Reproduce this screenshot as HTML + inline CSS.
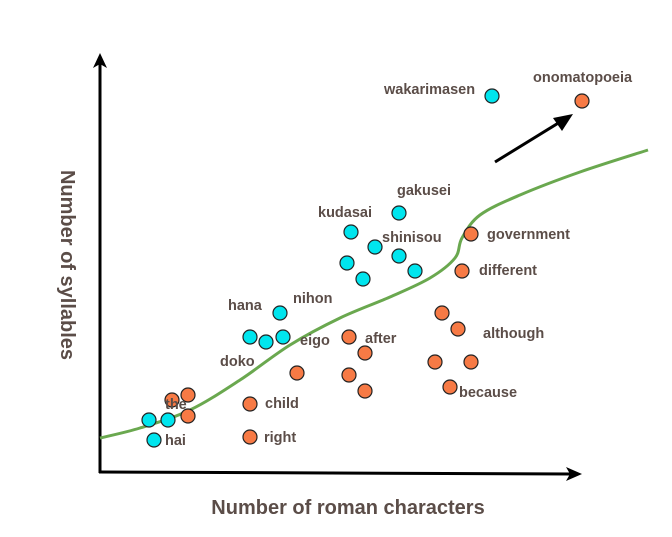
<!DOCTYPE html>
<html><head><meta charset="utf-8"><style>
html,body{margin:0;padding:0;background:#fff;}
svg{display:block;}
text{font-family:"Liberation Sans",sans-serif;font-weight:bold;fill:#5b4d48;}
</style></head><body>
<svg id="chart" width="672" height="537" viewBox="0 0 672 537" xmlns="http://www.w3.org/2000/svg">
<g id="axes">
<line x1="100" y1="473" x2="100" y2="62" stroke="#000" stroke-width="3"/>
<polygon points="100,53 93,68 100,64 107,68" fill="#000"/>
<line x1="99" y1="472" x2="572" y2="474" stroke="#000" stroke-width="3"/>
<polygon points="582,474 566,467 570,474 566,481" fill="#000"/>
</g>
<text x="348" y="514" text-anchor="middle" font-size="20">Number of roman characters</text>
<text transform="translate(61,265) rotate(90)" text-anchor="middle" font-size="20">Number of syllables</text>
<path id="trend" fill="none" stroke="#6aa84f" stroke-width="3"/>
<g>
<line x1="495" y1="162" x2="560" y2="122" stroke="#000" stroke-width="3"/>
<polygon points="573,114 553,118 562,131" fill="#000"/>
</g>
<g id="points"></g>
<g id="labels"></g>
</svg>
<script>
// data units: x = roman characters (scaled), y = syllables (scaled)
const cyanX = [78.4,59.8,50.2,55,59.8,49.4,52.6,63,36,30,33.2,36.6,9.8,13.6,10.8];
const cyanY = [75.2,51.8,48,45,43.2,41.8,38.6,40.2,31.8,27,26,27,10.4,10.4,6.4];
const orangeX = [96.4,74.2,72.4,68.4,71.6,49.8,53,67,74.2,70,39.4,49.8,53,30,30,14.4,17.6,17.6];
const orangeY = [74.2,47.6,40.2,31.8,28.6,27,23.8,22,22,17,19.8,19.4,16.2,13.6,7,14.4,15.4,11.2];
const curveX = [0,8,18,28,38,48,58,66,71,72.4,76,84,96,109.6];
const curveY = [6.8,8.8,12.4,18.4,25.4,30.8,35,38.8,42.8,46.8,51.4,55.4,60,64.4];
const labelText = ["wakarimasen","onomatopoeia","gakusei","kudasai","shinisou","government","different","hana","nihon","eigo","after","although","doko","because","child","the","hai","right"];
const labelX = [56.8,86.6,59.4,43.6,56.4,77.4,75.8,25.6,38.6,40,53,76.6,24,71.8,33,13,13,32.8];
const labelY = [75.6,78,55.4,51,46,46.6,39.4,32.4,33.8,25.4,25.8,26.8,21.2,15,12.8,12.6,5.4,6];
const labelAnchor = ["start","start","start","start","start","start","start","start","start","start","start","start","start","start","start","start","start","start"];

const xS = v => 100 + v*5;
const yS = v => 472 - v*5;
const NS = "http://www.w3.org/2000/svg";
const pts = document.getElementById('points');
function dot(x,y,fill,name){
  const c=document.createElementNS(NS,'circle');
  c.setAttribute('cx',xS(x));c.setAttribute('cy',yS(y));c.setAttribute('r',7);
  c.setAttribute('fill',fill);c.setAttribute('stroke','#222');c.setAttribute('stroke-width','1.2');
  
  
  pts.appendChild(c);
}
cyanX.forEach((x,i)=>dot(x,cyanY[i],'#00e5ee','japanese-word-point'));
orangeX.forEach((x,i)=>dot(x,orangeY[i],'#f77a45','english-word-point'));
// curve (Catmull-Rom)
const P = curveX.map((x,i)=>[xS(x),yS(curveY[i])]);
let d = `M${P[0][0]},${P[0][1]}`;
for(let i=0;i<P.length-1;i++){
  const p0=P[i-1]||P[i],p1=P[i],p2=P[i+1],p3=P[i+2]||P[i+1];
  d+=` C${p1[0]+(p2[0]-p0[0])/6},${p1[1]+(p2[1]-p0[1])/6} ${p2[0]-(p3[0]-p1[0])/6},${p2[1]-(p3[1]-p1[1])/6} ${p2[0]},${p2[1]}`;
}
document.getElementById('trend').setAttribute('d',d);
const lg=document.getElementById('labels');
labelText.forEach((t,i)=>{
  const e=document.createElementNS(NS,'text');
  e.setAttribute('x',xS(labelX[i]));e.setAttribute('y',yS(labelY[i]));
  e.setAttribute('font-size','14.5');e.setAttribute('text-anchor',labelAnchor[i]);
  e.textContent=t;
  
  
  lg.appendChild(e);
});
</script>
</body></html>
